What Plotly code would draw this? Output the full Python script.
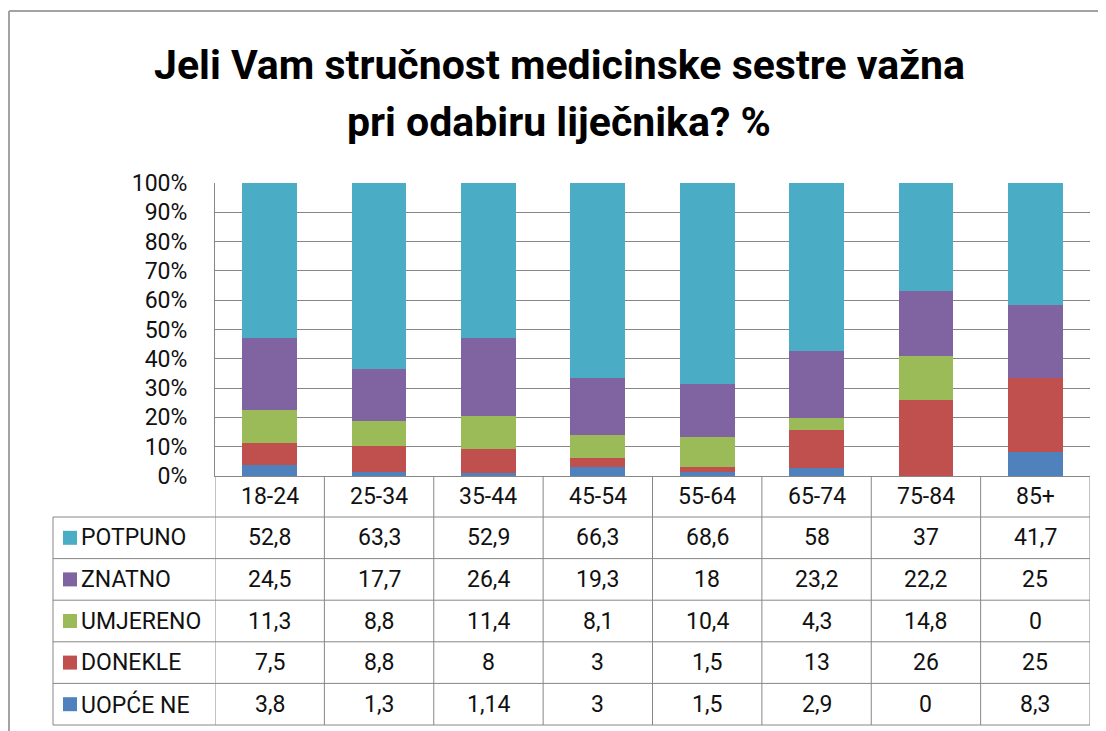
import plotly.graph_objects as go

# podaci
dobne_skupine = ['18-24', '25-34', '35-44', '45-54', '55-64', '65-74', '75-84', '85+']
potpuno = [52.8, 63.3, 52.9, 66.3, 68.6, 58, 37, 41.7]
znatno = [24.5, 17.7, 26.4, 19.3, 18, 23.2, 22.2, 25]
umjereno = [11.3, 8.8, 11.4, 8.1, 10.4, 4.3, 14.8, 0]
donekle = [7.5, 8.8, 8, 3, 1.5, 13, 26, 25]
uopce_ne = [3.8, 1.3, 1.14, 3, 1.5, 2.9, 0, 8.3]
postoci = list(range(0, 101, 10))

# redoslijed u tablici (odozgo prema dolje)
serije = [('POTPUNO', potpuno, '#4BACC6'),
          ('ZNATNO', znatno, '#8064A2'),
          ('UMJERENO', umjereno, '#9BBB59'),
          ('DONEKLE', donekle, '#C0504D'),
          ('UOPĆE NE', uopce_ne, '#4F81BD')]

W, H = 1106, 731
POMAK = 8  # margina stranice u pregledniku
font = 'Roboto, sans-serif'
tekst = '#111111'
siva = '#878787'

# pikseli slike -> paper koordinate
def px(x):
    return (x - POMAK) / W

def py(y):
    return 1 - (y - POMAK) / H

def fmt(v):
    return f'{v:g}'.replace('.', ',')

fig = go.Figure()

# stupci - od dna prema vrhu
for ime, vrijednosti, boja in reversed(serije):
    fig.add_trace(go.Bar(x=dobne_skupine, y=vrijednosti, name=ime,
                         marker=dict(color=boja, line=dict(width=0)), width=0.5))

# tablica ispod grafa
x_lijevo = 53
x_desno = 1090
y_vrh = 476
y_redovi = [517 + i * 41.6 for i in range(6)]
shapes = []

for y in y_redovi:
    shapes.append(dict(type='line', xref='paper', yref='paper', x0=px(x_lijevo), x1=px(x_desno),
                       y0=py(y), y1=py(y), line=dict(color=siva, width=1)))
for k in range(len(dobne_skupine) + 1):
    shapes.append(dict(type='line', xref='x', yref='paper', x0=k - 0.5, x1=k - 0.5,
                       y0=py(y_vrh), y1=py(y_redovi[-1]), line=dict(color=siva, width=1)))
shapes.append(dict(type='line', xref='paper', yref='paper', x0=px(x_lijevo), x1=px(x_lijevo),
                   y0=py(y_redovi[0]), y1=py(y_redovi[-1]), line=dict(color=siva, width=1)))
# okvir cijelog grafikona (gore i lijevo)
shapes.append(dict(type='line', xref='paper', yref='paper', x0=px(9), x1=1,
                   y0=py(11), y1=py(11), line=dict(color='#a3a3a3', width=2)))
shapes.append(dict(type='line', xref='paper', yref='paper', x0=px(9), x1=px(9),
                   y0=py(11), y1=0, line=dict(color='#a3a3a3', width=2)))

annotations = []
# zaglavlje
for kat in dobne_skupine:
    annotations.append(dict(x=kat, xref='x', y=py(496), yref='paper', yanchor='middle',
                            text=kat, showarrow=False,
                            font=dict(size=23, color=tekst, family=font)))
# redovi tablice
for r, (ime, vrijednosti, boja) in enumerate(serije):
    yc = (y_redovi[r] + y_redovi[r + 1]) / 2
    shapes.append(dict(type='rect', xref='paper', yref='paper', x0=px(63), x1=px(77),
                       y0=py(yc + 7), y1=py(yc - 7), fillcolor=boja, line=dict(width=0)))
    annotations.append(dict(x=px(79), xref='paper', y=py(yc), yref='paper', text=ime,
                            showarrow=False, xanchor='left', yanchor='middle',
                            font=dict(size=23, color=tekst, family=font)))
    for kat, v in zip(dobne_skupine, vrijednosti):
        annotations.append(dict(x=kat, xref='x', y=py(yc), yref='paper', yanchor='middle',
                                text=fmt(v), showarrow=False,
                                font=dict(size=23, color=tekst, family=font)))

# naslov
annotations.append(dict(x=px(559), xref='paper', y=py(65), yref='paper', yanchor='middle',
                        showarrow=False,
                        text='<b>Jeli Vam stručnost medicinske sestre važna</b>',
                        font=dict(size=41, color='black', family=font)))
annotations.append(dict(x=px(559), xref='paper', y=py(122), yref='paper', yanchor='middle',
                        showarrow=False,
                        text='<b>pri odabiru liječnika? %</b>',
                        font=dict(size=41, color='black', family=font)))

fig.update_layout(
    width=W, height=H,
    margin=dict(l=0, r=0, t=0, b=0),
    barmode='stack', barnorm='percent',
    plot_bgcolor='white', paper_bgcolor='white',
    showlegend=False,
    shapes=shapes, annotations=annotations,
    xaxis=dict(domain=[px(215), px(x_desno)], range=[-0.5, 7.5], showticklabels=False,
               showgrid=False, showline=True, linecolor=siva, ticks='', automargin=False),
    yaxis=dict(domain=[py(476), py(183)], range=[0, 100], tickmode='array',
               tickvals=postoci, ticktext=[f'{p}%' for p in postoci],
               showgrid=True, gridcolor=siva, gridwidth=1,
               showline=True, linecolor=siva, zeroline=False, ticks='', automargin=False,
               ticklabelstandoff=22,
               tickfont=dict(size=23, color=tekst, family=font)),
)

fig.write_html("out.html")
